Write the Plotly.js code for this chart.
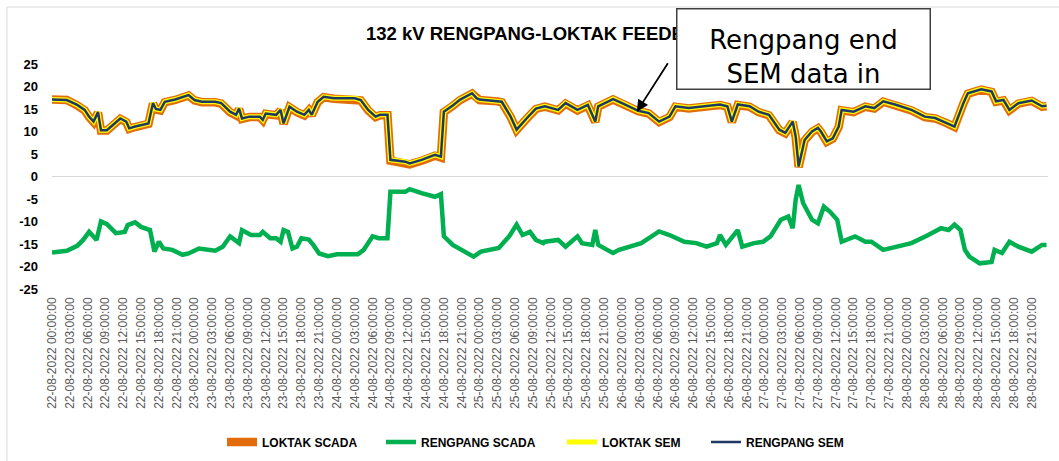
<!DOCTYPE html>
<html>
<head>
<meta charset="utf-8">
<script src="https://cdn.plot.ly/plotly-3.0.1.min.js"></script>
<style>html,body{margin:0;padding:0;background:#fff;}#chart{width:1059px;height:461px;}</style>
</head>
<body>
<div id="chart"></div>
<script>
// Day + time stamps (August 2022) for the Loktak / Rengpang SEM series
const upperTimes = [
  "22 00:00","22 02:30","22 04:15","22 05:30","22 06:15","22 07:00","22 07:45","22 08:15","22 09:15","22 10:15","22 11:30","22 12:30","22 13:00","22 14:00","22 15:00","22 16:15","22 17:00","22 17:30","22 18:15","22 19:00","22 20:45","22 22:15","22 23:00",
  "23 00:00","23 01:15","23 03:30","23 04:30","23 06:00","23 07:00","23 07:30","23 08:00","23 09:15","23 11:00","23 11:30","23 12:00","23 13:45","23 14:30","23 15:00","23 16:00","23 17:15","23 18:30","23 19:15","23 19:45","23 20:45","23 21:45","23 23:30",
  "24 03:00","24 04:00","24 05:15","24 06:30","24 07:15","24 08:30","24 09:00","24 11:30","24 12:15","24 14:15","24 16:30","24 17:30","24 18:00","24 19:30","24 20:45","24 22:45","24 23:30",
  "25 00:00","25 03:00","25 03:45","25 05:15","25 06:15","25 08:00","25 09:30","25 11:00","25 13:15","25 14:30","25 16:30","25 18:15","25 19:30","25 20:00","25 21:00","25 22:30",
  "26 00:00","26 02:45","26 04:30","26 06:15","26 08:00","26 09:00","26 11:15","26 13:30","26 16:30","26 17:45","26 18:30","26 19:30","26 21:30","26 23:00",
  "27 00:45","27 02:30","27 03:30","27 04:45","27 05:15","27 05:45","27 06:45","27 08:00","27 09:00","27 09:30","27 10:30","27 11:30","27 12:30","27 13:00","27 15:00","27 17:00","27 18:30","27 20:00","27 22:00",
  "28 00:45","28 03:00","28 04:45","28 06:45","28 08:00","28 09:30","28 10:15","28 12:30","28 14:15","28 15:00","28 16:15","28 17:15","28 18:45","28 21:00","28 22:45","28 23:30"
];
const loktakScada = [
  17.1,17.0,15.8,14.7,13.2,12.1,14.2,10.2,10.2,11.3,12.8,12.1,10.6,11.0,11.3,11.7,16.2,14.9,14.7,16.5,17.0,17.6,18.0,
  16.9,16.5,16.5,16.2,14.3,13.6,15.0,12.8,13.2,13.2,12.5,13.9,13.6,14.7,11.7,15.4,14.3,13.6,14.7,13.6,16.5,17.6,17.3,
  17.3,16.9,14.7,13.2,13.6,13.6,3.5,3.1,2.7,3.5,4.6,4.2,14.3,15.7,17.0,18.4,17.3,
  17.0,16.7,16.5,13.2,10.3,12.9,15.0,15.5,14.7,16.2,14.7,15.8,12.1,15.5,16.2,17.1,
  16.2,14.5,14.0,12.1,13.2,15.5,15.1,15.5,15.9,15.5,12.1,15.9,15.5,14.3,
  13.6,10.3,9.6,12.1,8.8,2.1,8.0,9.9,10.7,9.9,7.7,8.4,11.0,14.7,14.3,15.5,15.1,16.6,15.9,
  14.7,13.2,12.9,11.8,11.0,16.2,18.4,19.3,18.8,16.6,16.9,14.7,16.2,16.8,15.5,15.6
];
const loktakSem = [
  17.1,17.0,15.9,14.8,13.3,12.2,14.3,10.3,10.3,11.4,12.9,12.2,10.7,11.1,11.4,11.8,16.3,15.0,14.8,16.6,17.1,17.7,18.1,
  17.0,16.6,16.6,16.3,14.4,13.7,15.1,12.9,13.3,13.3,12.6,14.0,13.7,14.8,11.8,15.5,14.4,13.7,14.8,13.7,16.6,17.7,17.4,
  17.4,17.0,14.8,13.3,13.7,13.7,3.7,3.3,2.9,3.7,4.8,4.4,14.4,15.8,17.1,18.5,17.4,
  17.1,16.8,16.6,13.3,10.4,13.0,15.1,15.6,14.8,16.3,14.8,15.9,12.2,15.6,16.3,17.2,
  16.3,14.6,14.1,12.2,13.3,15.6,15.2,15.6,16.0,15.6,12.2,16.0,15.6,14.4,
  13.7,10.4,9.7,12.2,8.9,2.2,8.1,10.0,10.8,10.0,7.8,8.5,11.1,14.8,14.4,15.6,15.2,16.7,16.0,
  14.8,13.3,13.0,11.9,11.1,16.3,18.5,19.4,18.9,16.7,17.0,14.8,16.3,16.9,15.6,15.7
];
const rengpangSem = [
  17.1,17.0,15.9,14.8,13.3,12.2,14.3,10.3,10.3,11.4,12.9,12.2,10.7,11.1,11.4,11.8,16.3,15.0,14.8,16.6,17.1,17.7,18.1,
  17.0,16.6,16.6,16.3,14.4,13.7,15.1,12.9,13.3,13.3,12.6,14.0,13.7,14.8,11.8,15.5,14.4,13.7,14.8,13.7,16.6,17.7,17.4,
  17.4,17.0,14.8,13.3,13.7,13.7,3.7,3.3,2.9,3.7,4.8,4.4,14.4,15.8,17.1,18.5,17.4,
  17.1,16.8,16.6,13.3,10.4,13.0,15.1,15.6,14.8,16.3,14.8,15.9,12.2,15.6,16.3,17.2,
  16.3,14.6,14.1,12.2,13.3,15.6,15.2,15.6,16.0,15.6,12.2,16.0,15.6,14.4,
  13.7,10.4,9.7,12.2,8.9,2.2,8.1,10.0,10.8,10.0,7.8,8.5,11.1,14.8,14.4,15.6,15.2,16.7,16.0,
  14.8,13.3,13.0,11.9,11.1,16.3,18.5,19.4,18.9,16.7,17.0,14.8,16.3,16.9,15.6,15.7
];
// Rengpang SCADA series
const rengScadaTimes = [
  "22 00:00","22 02:30","22 04:15","22 05:15","22 06:15","22 07:30","22 08:15","22 09:15","22 10:45","22 12:15","22 12:45","22 14:00","22 15:00","22 16:30","22 17:15","22 18:00","22 18:45","22 20:15","22 22:00","22 23:00",
  "23 00:45","23 03:30","23 04:45","23 06:00","23 07:30","23 08:00","23 09:30","23 11:00","23 11:30","23 12:45","23 13:45","23 14:30","23 15:00","23 15:45","23 16:30","23 17:15","23 18:00","23 19:15","23 20:00","23 21:00","23 22:30",
  "24 00:00","24 03:30","24 04:30","24 06:00","24 07:00","24 08:30","24 09:00","24 11:30","24 12:15","24 14:15","24 16:30","24 17:30","24 18:00","24 19:30","24 20:30","24 21:45","24 23:00",
  "25 00:15","25 03:15","25 05:00","25 06:15","25 07:15","25 08:30","25 09:30","25 10:45","25 11:00","25 13:15","25 14:30","25 16:30","25 17:15","25 19:00","25 19:30","25 20:00","25 21:30","25 22:30","25 23:30",
  "26 01:00","26 03:15","26 06:15","26 08:00","26 10:30","26 12:30","26 14:15","26 16:00","26 16:30","26 17:30","26 19:30","26 20:15","26 22:15","26 23:45",
  "27 01:00","27 02:45","27 04:00","27 04:45","27 05:15","27 05:45","27 06:30","27 08:00","27 09:00","27 10:00","27 11:00","27 12:15","27 13:00","27 15:15","27 17:00","27 18:00","27 20:00","27 22:00",
  "28 00:45","28 03:15","28 05:45","28 07:00","28 08:00","28 09:00","28 09:45","28 10:30","28 12:15","28 14:15","28 14:45","28 16:00","28 17:15","28 18:45","28 21:00","28 22:45","28 23:30"
];
const rengpangScada = [
  -16.9,-16.5,-15.4,-14.1,-12.3,-14.1,-10.0,-10.6,-12.6,-12.3,-10.8,-10.2,-11.2,-11.9,-16.7,-14.5,-16.0,-16.3,-17.4,-17.1,
  -16.0,-16.5,-15.6,-13.3,-14.8,-11.9,-13.0,-13.0,-12.3,-13.7,-13.7,-14.5,-11.9,-12.3,-16.0,-15.6,-13.7,-14.0,-15.2,-17.1,-17.7,
  -17.3,-17.3,-16.3,-13.3,-13.7,-13.7,-3.4,-3.4,-2.8,-3.7,-4.5,-3.9,-13.3,-15.2,-15.9,-16.7,-17.8,
  -16.7,-15.9,-13.3,-10.7,-13.0,-12.3,-14.1,-14.8,-14.5,-14.1,-15.6,-13.3,-14.8,-15.2,-11.9,-15.2,-16.3,-17.0,-16.3,
  -15.6,-14.8,-12.2,-13.0,-14.5,-14.8,-15.6,-14.8,-13.0,-15.2,-11.9,-15.6,-14.8,-14.5,
  -13.3,-9.6,-8.9,-11.5,-5.2,-1.9,-5.9,-9.6,-10.4,-6.7,-7.8,-9.6,-14.5,-13.3,-14.5,-14.5,-16.3,-15.6,
  -14.8,-13.2,-11.5,-11.9,-10.7,-11.9,-16.3,-17.8,-19.3,-19.0,-16.3,-17.0,-14.5,-15.6,-16.7,-15.2,-15.2
];
const seriesNames = ["LOKTAK SCADA","RENGPANG SCADA","LOKTAK SEM","RENGPANG SEM"];
const seriesColors = ["#E36C0A","#00B050","#FFFF00","#1F3864"];
const yTickVals = [25,20,15,10,5,0,-5,-10,-15,-20,-25];
const yTickText = ["25","20","15","10","5","0","-5","-10","-15","-20","-25"];
const chartTitle = "132 kV RENGPANG-LOKTAK FEEDER";
const noteText = "Rengpang end<br>SEM data in";
const arrowAt = {x: "26 02:30", y: 14.4};

const toDate = s => "2022-08-" + s;
const ut = upperTimes.map(toDate);
const gt = rengScadaTimes.map(toDate);

const traces = [
  {x: ut, y: loktakScada, name: seriesNames[0], legend: "legend", type: "scatter", mode: "lines", line: {color: seriesColors[0], width: 8.5}},
  {x: gt, y: rengpangScada, name: seriesNames[1], legend: "legend2", type: "scatter", mode: "lines", line: {color: seriesColors[1], width: 4.5}},
  {x: ut, y: loktakSem, name: seriesNames[2], legend: "legend3", type: "scatter", mode: "lines", line: {color: seriesColors[2], width: 5}},
  {x: ut, y: rengpangSem, name: seriesNames[3], legend: "legend4", type: "scatter", mode: "lines", line: {color: seriesColors[3], width: 2.5}}
];

const legendFont = {family: "Liberation Sans, Arial, sans-serif", size: 12, color: "#000000", weight: "bold"};
const legendAt = left => ({orientation: "h", x: left / 1059, xref: "container", xanchor: "left",
  y: 0.0412, yref: "container", yanchor: "middle", font: legendFont, itemwidth: 30, bgcolor: "rgba(0,0,0,0)"});

const layout = {
  width: 1059, height: 461,
  margin: {l: 52, r: 11, t: 64, b: 172, pad: 0},
  paper_bgcolor: "#ffffff", plot_bgcolor: "#ffffff",
  showlegend: true,
  hovermode: false,
  title: {text: chartTitle, x: 0.502, xref: "container", xanchor: "center", y: 0.928, yref: "container", yanchor: "middle",
          font: {family: "Liberation Sans, Arial, sans-serif", size: 18.5, color: "#000000", weight: "bold"}},
  xaxis: {
    type: "date",
    range: [toDate("22 00:00"), toDate("28 23:45")],
    tickformat: "%d-%m-%Y %H:%M:%S",
    tick0: toDate("22 00:00"), dtick: 3 * 3600 * 1000,
    tickangle: -90,
    tickfont: {family: "Liberation Sans, Arial, sans-serif", size: 12, color: "#595959"},
    ticklabelstandoff: 5,
    showgrid: false, zeroline: false, showline: false, ticks: "",
    fixedrange: true
  },
  yaxis: {
    range: [-25, 25],
    tickvals: yTickVals, ticktext: yTickText,
    tickfont: {family: "Liberation Sans, Arial, sans-serif", size: 13, color: "#000000", weight: "bold"},
    showgrid: false, showline: false, ticks: "",
    zeroline: true, zerolinecolor: "#D9D9D9", zerolinewidth: 1.5,
    ticklabelstandoff: 13,
    fixedrange: true
  },
  legend: legendAt(222),
  legend2: legendAt(381),
  legend3: legendAt(562),
  legend4: legendAt(706),
  shapes: [
    {type: "rect", xref: "paper", yref: "paper", x0: -0.0452, x1: 1.027, y0: -0.827, y1: 1.2533,
     line: {color: "#D9D9D9", width: 1}, fillcolor: "rgba(0,0,0,0)", layer: "below"}
  ],
  annotations: [
    {x: toDate(arrowAt.x), y: arrowAt.y, xref: "x", yref: "y", text: "", showarrow: true,
     ax: 32, ay: -50, arrowhead: 2, arrowsize: 1.3, arrowwidth: 1.8, arrowcolor: "#000000"},
    {x: 0.7545, y: 1.2511, xref: "paper", yref: "paper", xanchor: "center", yanchor: "top",
     text: noteText, showarrow: false, width: 252, height: 79, valign: "bottom", align: "center",
     bgcolor: "#ffffff", bordercolor: "#404040", borderwidth: 1.5, borderpad: 0,
     font: {family: "DejaVu Sans, sans-serif", size: 26, color: "#000000"}}
  ]
};

Plotly.newPlot("chart", traces, layout, {displayModeBar: false, staticPlot: true});
</script>
</body>
</html>
